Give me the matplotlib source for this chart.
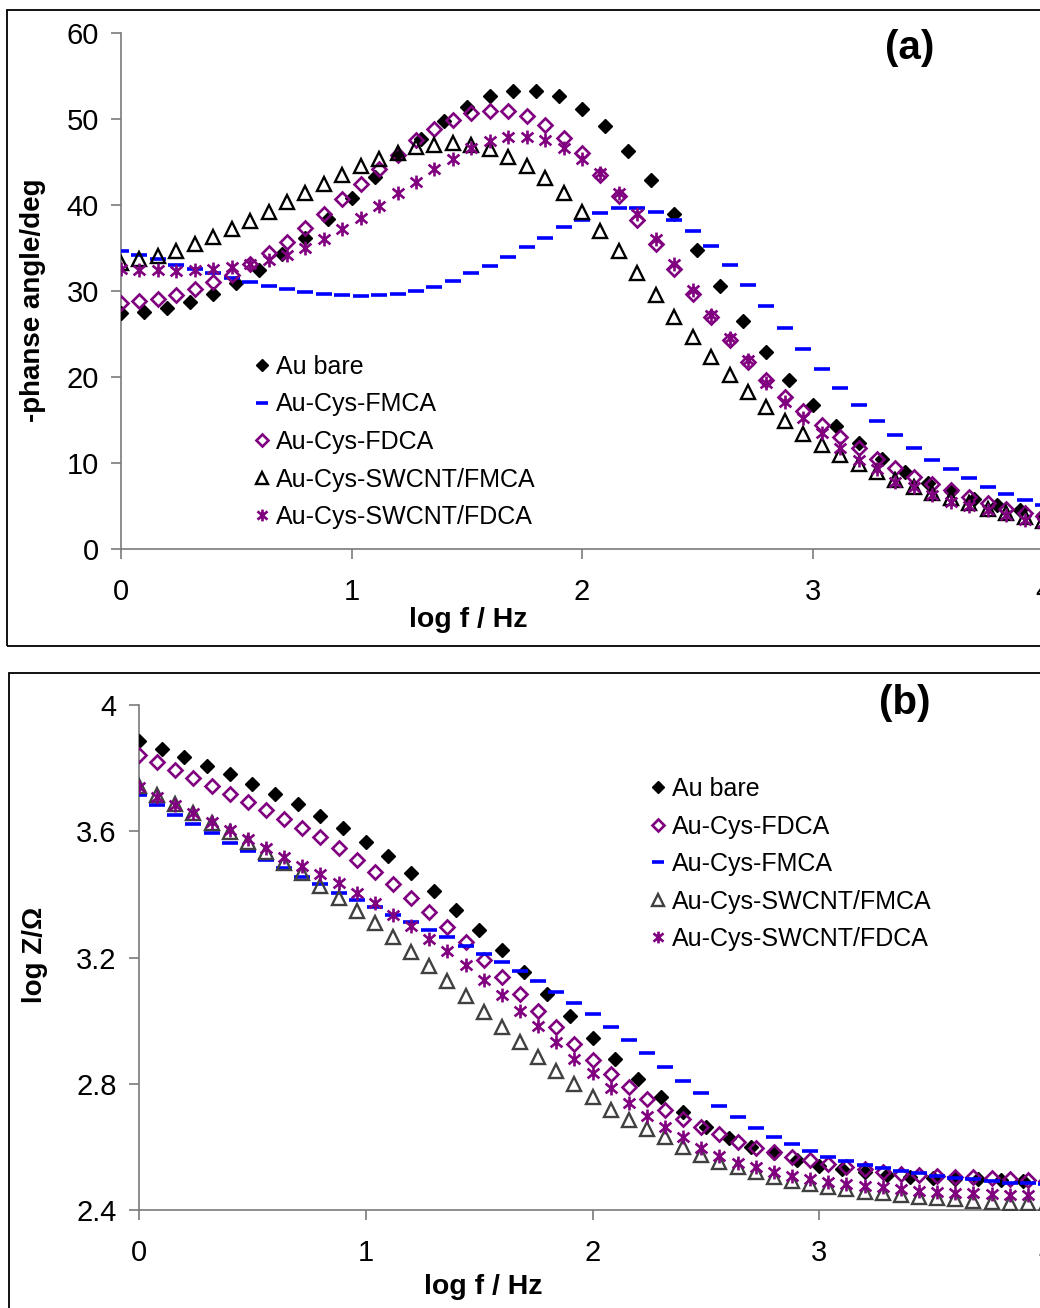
import matplotlib
matplotlib.use("Agg")
import matplotlib.pyplot as plt
from matplotlib.path import Path
from matplotlib.patches import Rectangle
from matplotlib.ticker import FixedLocator

plt.rcParams['font.family'] = ['Liberation Sans', 'DejaVu Sans']

# ---------------- data ----------------
# log f grid for Au bare (10 points / decade)
logf_bare = [0.0, 0.1, 0.2, 0.3, 0.4, 0.5, 0.6, 0.7, 0.8, 0.9,
             1.0, 1.1, 1.2, 1.3, 1.4, 1.5, 1.6, 1.7, 1.8, 1.9,
             2.0, 2.1, 2.2, 2.3, 2.4, 2.5, 2.6, 2.7, 2.8, 2.9,
             3.0, 3.1, 3.2, 3.3, 3.4, 3.5, 3.6, 3.7, 3.8, 3.9, 4.0]
# log f grid for the modified electrodes
logf_mod = [0.00, 0.08, 0.16, 0.24, 0.32, 0.40, 0.48, 0.56, 0.64, 0.72,
            0.80, 0.88, 0.96, 1.04, 1.12, 1.20, 1.28, 1.36, 1.44, 1.52,
            1.60, 1.68, 1.76, 1.84, 1.92, 2.00, 2.08, 2.16, 2.24, 2.32,
            2.40, 2.48, 2.56, 2.64, 2.72, 2.80, 2.88, 2.96, 3.04, 3.12,
            3.20, 3.28, 3.36, 3.44, 3.52, 3.60, 3.68, 3.76, 3.84, 3.92, 4.00]

# (a) -phase angle / deg
phase_bare = [27.4, 27.5, 28.0, 28.7, 29.6, 30.9, 32.4, 34.3, 36.2, 38.4,
              40.8, 43.2, 45.8, 47.7, 49.8, 51.4, 52.7, 53.3, 53.3, 52.7,
              51.2, 49.2, 46.3, 42.9, 39.0, 34.8, 30.6, 26.5, 22.9, 19.6,
              16.7, 14.3, 12.3, 10.5, 9.0, 7.7, 6.7, 5.8, 5.1, 4.5, 4.0]
phase_fmca = [34.6, 34.2, 33.7, 33.0, 32.5, 32.1, 31.5, 31.0, 30.6, 30.2,
              29.9, 29.7, 29.5, 29.4, 29.5, 29.7, 30.0, 30.5, 31.2, 32.1,
              32.9, 34.0, 35.1, 36.2, 37.4, 38.3, 39.1, 39.6, 39.6, 39.2,
              38.3, 37.0, 35.2, 33.0, 30.7, 28.2, 25.7, 23.2, 20.9, 18.7,
              16.7, 14.9, 13.3, 11.7, 10.4, 9.3, 8.2, 7.2, 6.4, 5.7, 5.1]
phase_fdca = [28.6, 28.8, 29.1, 29.5, 30.2, 31.0, 31.9, 33.1, 34.4, 35.7,
              37.3, 39.0, 40.7, 42.4, 44.2, 45.8, 47.5, 48.8, 49.9, 50.7,
              50.9, 50.9, 50.3, 49.3, 47.8, 46.0, 43.5, 41.1, 38.3, 35.5,
              32.6, 29.7, 27.0, 24.3, 21.8, 19.7, 17.7, 16.0, 14.4, 13.0,
              11.7, 10.5, 9.4, 8.4, 7.6, 6.9, 6.1, 5.4, 4.7, 4.2, 3.8]
phase_sw_fmca = [33.2, 33.7, 34.1, 34.7, 35.5, 36.3, 37.2, 38.1, 39.2, 40.3,
                 41.4, 42.4, 43.5, 44.5, 45.3, 46.1, 46.7, 47.0, 47.2, 47.0,
                 46.5, 45.6, 44.5, 43.1, 41.4, 39.2, 37.0, 34.6, 32.1, 29.5,
                 27.0, 24.6, 22.3, 20.2, 18.2, 16.5, 14.9, 13.4, 12.1, 10.9,
                 9.9, 9.0, 8.0, 7.2, 6.5, 5.9, 5.3, 4.7, 4.2, 3.7, 3.3]
phase_sw_fdca = [32.6, 32.4, 32.4, 32.3, 32.4, 32.5, 32.8, 33.1, 33.6, 34.2,
                 35.0, 36.0, 37.2, 38.5, 39.9, 41.4, 42.7, 44.2, 45.4, 46.6,
                 47.4, 47.9, 47.9, 47.5, 46.6, 45.3, 43.7, 41.4, 39.0, 36.0,
                 33.1, 30.1, 27.2, 24.5, 22.0, 19.3, 17.1, 15.2, 13.5, 11.7,
                 10.3, 9.3, 7.8, 7.2, 6.3, 5.5, 5.0, 4.5, 4.0, 3.4, 3.0]

# (b) log Z / Ohm
logz_bare = [3.887, 3.860, 3.834, 3.808, 3.780, 3.750, 3.718, 3.686, 3.649, 3.611,
             3.567, 3.522, 3.469, 3.412, 3.350, 3.287, 3.224, 3.155, 3.083, 3.015,
             2.944, 2.877, 2.815, 2.759, 2.711, 2.662, 2.628, 2.600, 2.581, 2.558,
             2.539, 2.529, 2.521, 2.511, 2.505, 2.500, 2.498, 2.497, 2.495, 2.493, 2.490]
logz_fdca = [3.842, 3.818, 3.794, 3.770, 3.743, 3.718, 3.692, 3.667, 3.639, 3.611,
             3.581, 3.548, 3.509, 3.472, 3.432, 3.387, 3.343, 3.296, 3.248, 3.192,
             3.137, 3.084, 3.031, 2.979, 2.926, 2.875, 2.831, 2.789, 2.752, 2.717,
             2.687, 2.662, 2.640, 2.616, 2.597, 2.585, 2.567, 2.558, 2.546, 2.535,
             2.529, 2.521, 2.514, 2.511, 2.508, 2.505, 2.503, 2.500, 2.497, 2.495, 2.493]
logz_fmca = [3.715, 3.683, 3.651, 3.623, 3.593, 3.564, 3.537, 3.509, 3.483, 3.456,
             3.432, 3.405, 3.382, 3.359, 3.335, 3.311, 3.287, 3.264, 3.237, 3.211,
             3.185, 3.157, 3.125, 3.092, 3.057, 3.020, 2.981, 2.939, 2.896, 2.852,
             2.810, 2.770, 2.729, 2.694, 2.661, 2.632, 2.609, 2.587, 2.569, 2.555,
             2.542, 2.532, 2.523, 2.516, 2.509, 2.502, 2.497, 2.492, 2.486, 2.484, 2.481]
logz_sw_fmca = [3.743, 3.715, 3.686, 3.657, 3.627, 3.597, 3.567, 3.533, 3.500, 3.467,
                3.426, 3.387, 3.348, 3.308, 3.264, 3.218, 3.173, 3.126, 3.078, 3.028,
                2.981, 2.931, 2.886, 2.841, 2.799, 2.757, 2.718, 2.685, 2.656, 2.630,
                2.600, 2.574, 2.553, 2.535, 2.521, 2.506, 2.493, 2.482, 2.474, 2.465,
                2.458, 2.453, 2.447, 2.442, 2.437, 2.434, 2.429, 2.426, 2.423, 2.421, 2.419]
logz_sw_fdca = [3.739, 3.709, 3.683, 3.657, 3.630, 3.604, 3.574, 3.546, 3.519, 3.491,
                3.465, 3.435, 3.403, 3.372, 3.335, 3.300, 3.260, 3.221, 3.176, 3.129,
                3.081, 3.031, 2.983, 2.933, 2.880, 2.833, 2.785, 2.740, 2.698, 2.662,
                2.632, 2.595, 2.571, 2.550, 2.535, 2.521, 2.508, 2.497, 2.490, 2.482,
                2.476, 2.472, 2.465, 2.461, 2.458, 2.455, 2.453, 2.451, 2.448, 2.447, 2.446]

labels = ["Au bare", "Au-Cys-FMCA", "Au-Cys-FDCA", "Au-Cys-SWCNT/FMCA", "Au-Cys-SWCNT/FDCA"]
x_ticks = [0, 1, 2, 3, 4]
y_ticks_a = [0, 10, 20, 30, 40, 50, 60]
y_ticks_b = [2.4, 2.8, 3.2, 3.6, 4.0]
y_ticklabels_b = ["2.4", "2.8", "3.2", "3.6", "4"]

# ---------------- styles ----------------
PURPLE = "#800080"
BLUE = "#0000FF"
W, H = 1040, 1308

star = Path([(0, -1), (0, 1), (-0.85, -0.7), (0.85, 0.7), (-0.85, 0.7), (0.85, -0.7)],
            [Path.MOVETO, Path.LINETO, Path.MOVETO, Path.LINETO, Path.MOVETO, Path.LINETO])

def style(kind, tri_color="black"):
    if kind == "bare":
        return dict(marker="D", ms=7.6, mfc="black", mec="black", mew=1.0, ls="none")
    if kind == "fmca":
        return dict(marker="_", ms=11, mec=BLUE, mew=2.6, ls="none")
    if kind == "fdca":
        return dict(marker="D", ms=7.0, mfc="none", mec=PURPLE, mew=1.9, ls="none")
    if kind == "swfmca":
        return dict(marker="^", ms=9.5, mfc="none", mec=tri_color, mew=1.7, ls="none")
    if kind == "swfdca":
        return dict(marker=star, ms=10, mfc="none", mec=PURPLE, mew=1.9, ls="none")

fig = plt.figure(figsize=(W / 100, H / 100), dpi=100)

def px_axes(l, t, r, b):
    return fig.add_axes([l / W, 1 - b / H, (r - l) / W, (b - t) / H])

def setup(ax):
    for s in ("top", "right"):
        ax.spines[s].set_visible(False)
    for s in ("left", "bottom"):
        ax.spines[s].set_color("#7a7a7a")
        ax.spines[s].set_linewidth(1.2)
    ax.tick_params(axis="both", direction="out", length=7, width=1.2, color="#7a7a7a",
                   labelsize=21)
    ax.tick_params(axis="y", pad=9)
    ax.tick_params(axis="x", pad=14)
    ax.set_xlim(0, 4)
    ax.xaxis.set_major_locator(FixedLocator(x_ticks))
    ax.patch.set_alpha(0)

# ---------------- panel (a) ----------------
axa = px_axes(121, 33, 1043, 549)
setup(axa)
axa.set_ylim(0, 60)
axa.set_yticks(y_ticks_a)
ha = []
ha += axa.plot(logf_bare, phase_bare, label=labels[0], zorder=3, **style("bare"))
ha += axa.plot(logf_mod, phase_fmca, label=labels[1], zorder=4, **style("fmca"))
ha += axa.plot(logf_mod, phase_fdca, label=labels[2], zorder=5, **style("fdca"))
ha += axa.plot(logf_mod, phase_sw_fmca, label=labels[3], zorder=6, **style("swfmca"))
ha += axa.plot(logf_mod, phase_sw_fdca, label=labels[4], zorder=7, **style("swfdca"))
axa.set_xlabel("log f / Hz", fontsize=20.5, fontweight="bold")
axa.xaxis.set_label_coords((468 - 121) / 922, (549 - 620) / 516)
axa.set_ylabel("-phanse angle/deg", fontsize=20, fontweight="bold")
axa.yaxis.set_label_coords((33 - 121) / 922, (549 - 300) / 516)
axa.xaxis.label.set_va("center")
axa.yaxis.label.set_va("center")
fig.text(910 / W, 1 - 48 / H, "(a)", fontsize=29, fontweight="bold", ha="center", va="center")

leg_kw = dict(frameon=False, fontsize=18, handlelength=0.7, handletextpad=0.2,
              labelspacing=0.54, borderpad=0, borderaxespad=0, markerscale=0.85,
              loc="upper left")
la = axa.legend(handles=ha, bbox_to_anchor=(253 / W, 1 - 355 / H),
                bbox_transform=fig.transFigure, **leg_kw)

# ---------------- panel (b) ----------------
axb = px_axes(139, 705, 1046, 1210)
setup(axb)
axb.set_ylim(2.4, 4.0)
axb.set_yticks(y_ticks_b)
axb.set_yticklabels(y_ticklabels_b)
hb = []
hb += axb.plot(logf_bare, logz_bare, label=labels[0], zorder=3, **style("bare"))
hb += axb.plot(logf_mod, logz_fdca, label=labels[2], zorder=4, **style("fdca"))
hb += axb.plot(logf_mod, logz_fmca, label=labels[1], zorder=5, **style("fmca"))
hb += axb.plot(logf_mod, logz_sw_fmca, label=labels[3], zorder=6, **style("swfmca", "#404040"))
hb += axb.plot(logf_mod, logz_sw_fdca, label=labels[4], zorder=7, **style("swfdca"))
axb.set_xlabel("log f / Hz", fontsize=20.5, fontweight="bold")
axb.xaxis.set_label_coords((483 - 139) / 907, (1210 - 1287) / 505)
axb.set_ylabel("log Z/\u03A9", fontsize=20, fontweight="bold")
axb.yaxis.set_label_coords((35 - 139) / 907, (1210 - 955) / 505)
axb.xaxis.label.set_va("center")
axb.yaxis.label.set_va("center")
fig.text(905 / W, 1 - 703 / H, "(b)", fontsize=29, fontweight="bold", ha="center", va="center")
lb = axb.legend(handles=hb, bbox_to_anchor=(649 / W, 1 - 777 / H),
                bbox_transform=fig.transFigure, **leg_kw)

# ---------------- panel frames ----------------
fig.add_artist(Rectangle((7 / W, 1 - 646 / H), 1.02 - 7 / W, (646 - 10) / H,
                         transform=fig.transFigure, fill=False, ec="black", lw=1.3))
fig.add_artist(Rectangle((9 / W, -0.02), 1.02 - 9 / W, 0.02 + 1 - 673 / H,
                         transform=fig.transFigure, fill=False, ec="black", lw=1.3))

fig.savefig("out.png", dpi=100)
